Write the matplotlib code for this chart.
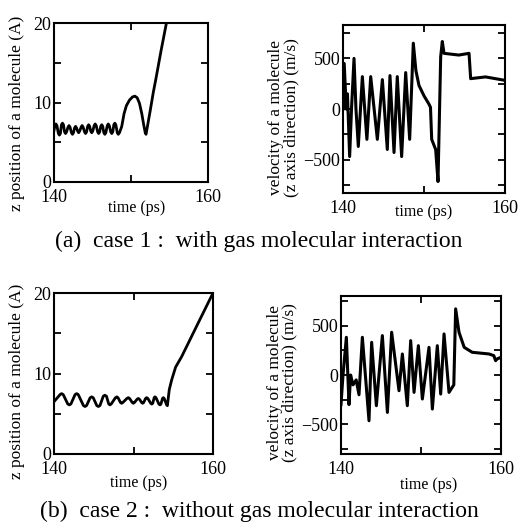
import matplotlib
matplotlib.use("Agg")
import matplotlib.pyplot as plt
from matplotlib.ticker import MultipleLocator

plt.rcParams['font.family'] = ['Liberation Serif', 'DejaVu Serif']

# case 1 : z position (A)
t_z1 = [140.0, 140.12, 140.25, 140.38, 140.57, 140.7, 140.83, 140.97, 141.1, 141.23,
        141.37, 141.5, 141.63, 141.82, 141.95, 142.08, 142.27, 142.4, 142.53, 142.67,
        142.8, 142.93, 143.07, 143.2, 143.33, 143.52, 143.65, 143.78, 143.97, 144.1,
        144.23, 144.37, 144.5, 144.63, 144.77, 144.9, 145.03, 145.22, 145.35, 145.48,
        145.67, 145.8, 145.93, 146.07, 146.2, 146.33, 146.47, 146.6, 146.73, 146.92,
        147.05, 147.18, 147.37, 147.5, 147.63, 147.77, 147.9, 148.03, 148.22, 148.35,
        148.5, 148.8, 149.1, 149.4, 149.8, 150.2, 150.5, 150.8, 151.1, 151.4,
        151.65, 151.85, 151.95, 152.1, 152.5, 152.9, 153.2, 153.9, 154.6, 155.0]
z1 = [6.5, 7.1, 7.3, 7.1, 6.1, 5.9, 6.1, 7.2, 7.4, 7.2,
      6.3, 6.1, 6.3, 6.9, 7.1, 6.9, 6.2, 6.0, 6.2, 6.8,
      7.0, 6.8, 6.4, 6.2, 6.4, 6.9, 7.1, 6.9, 6.3, 6.1,
      6.3, 7.0, 7.2, 7.0, 6.4, 6.2, 6.4, 7.1, 7.3, 7.1,
      6.3, 6.1, 6.3, 7.0, 7.2, 7.0, 6.2, 6.0, 6.2, 7.1,
      7.3, 7.1, 6.3, 6.1, 6.3, 7.2, 7.4, 7.2, 6.2, 6.0,
      6.2, 7.0, 8.6, 9.6, 10.3, 10.7, 10.8, 10.6, 9.9, 8.6,
      7.2, 6.2, 6.0, 6.8, 9.0, 11.3, 12.8, 16.5, 20.0, 22.0]

# case 1 : velocity (m/s)
t_v1 = [140.0, 140.15, 140.4, 140.55, 140.82, 141.05, 141.36, 141.6, 141.89, 142.39,
        142.95, 143.42, 144.24, 144.86, 145.47, 145.8, 146.3, 146.7, 147.24, 147.74,
        148.23, 148.68, 149.0, 149.38, 150.0, 150.6, 150.8, 150.95, 151.44, 151.73,
        152.06, 152.26, 152.47, 154.3, 155.56, 155.76, 157.6, 160.0]
v1 = [0, 450, 0, 150, -470, 0, 500, 0, -370, 320,
      -300, 320, -300, 290, -400, 330, -430, 320, -470, 360,
      -300, 650, 380, 233, 130, 50, 17, -300, -400, -717,
      517, 667, 550, 533, 550, 300, 317, 283]

# case 2 : z position (A)
t_z2 = [140.0,
        140.76, 140.96, 141.16, 141.73, 141.93, 142.13, 142.65, 142.85, 143.05,
        143.7, 143.9, 144.1, 144.54, 144.74, 144.94, 145.38, 145.58, 145.78,
        146.2, 146.4, 146.6, 146.88, 147.04, 147.2, 147.72, 147.9, 148.06,
        148.36, 148.5, 148.66, 149.17, 149.35, 149.5, 149.84, 149.98, 150.12,
        150.45, 150.6, 150.75, 151.02, 151.15, 151.28, 151.52, 151.65, 151.8,
        152.17, 152.3, 152.42, 152.6, 152.7, 152.82, 153.2, 153.33, 153.45,
        153.65, 153.75, 153.86, 154.17, 154.26,
        154.5, 154.8, 155.3, 156.06, 158.0, 160.0]
z2 = [6.5,
      7.38, 7.5, 7.38, 6.22, 6.1, 6.22, 7.38, 7.5, 7.38,
      6.02, 5.9, 6.02, 6.98, 7.1, 6.98, 6.02, 5.9, 6.02,
      7.18, 7.3, 7.18, 6.22, 6.1, 6.22, 6.98, 7.1, 6.98,
      6.4, 6.3, 6.4, 6.9, 7.0, 6.9, 6.4, 6.3, 6.4,
      6.8, 6.9, 6.8, 6.4, 6.3, 6.4, 6.9, 7.0, 6.9,
      6.3, 6.2, 6.3, 7.0, 7.1, 7.0, 6.2, 6.1, 6.2,
      6.9, 7.0, 6.9, 6.1, 6.0,
      8.0, 9.2, 10.8, 12.1, 16.0, 20.0]

# case 2 : velocity (m/s)
t_v2 = [140.0, 140.25, 140.67, 141.0, 141.2, 141.5, 141.9, 142.25, 142.67, 143.5,
        143.83, 144.42, 145.17, 145.8, 146.33, 147.25, 147.67, 148.29, 148.71, 149.13,
        149.67, 150.17, 151.0, 151.42, 152.04, 152.46, 152.88, 153.5, 154.1, 154.33,
        154.75, 155.4, 156.4, 158.5, 159.1, 159.33, 159.5, 160.0]
v2 = [-300, 0, 382, -300, 0, -100, -50, -200, 382, -463,
      331, -311, 399, -379, 433, -159, 213, -311, 348, -176,
      297, -243, 280, -345, 297, -193, 416, -176, -100, 670,
      433, 280, 230, 213, 196, 145, 162, 180]

W, H = 518, 528
fig = plt.figure(figsize=(W / 100, H / 100), dpi=100)


def px_axes(x0, y0, x1, y1):
    return fig.add_axes([x0 / W, 1 - y1 / H, (x1 - x0) / W, (y1 - y0) / H])


def style(ax, ylim, ymajor, yminor):
    ax.set_xlim(140, 160)
    ax.set_ylim(*ylim)
    ax.set_xticks([140, 160])
    ax.xaxis.set_minor_locator(MultipleLocator(10))
    ax.yaxis.set_major_locator(MultipleLocator(ymajor))
    ax.yaxis.set_minor_locator(MultipleLocator(yminor))
    ax.tick_params(which='both', direction='in', top=True, right=True,
                   length=5, width=1.3, labelsize=13)
    ax.tick_params(axis='x', pad=5)
    ax.tick_params(axis='y', pad=2)
    for s in ax.spines.values():
        s.set_linewidth(1.5)


ylab_z = 'z position of a molecule (A)'
ylab_v = 'velocity of a molecule\n(z axis direction) (m/s)'

# top left
ax1 = px_axes(54, 23, 208, 182)
ax1.plot(t_z1, z1, color='black', lw=2.0)
style(ax1, (0, 20), 10, 5)
ax1.set_xlabel('time (ps)', fontsize=11.5)
ax1.xaxis.set_label_coords(0.535, -0.115)
ax1.set_ylabel(ylab_z, fontsize=12.5)
ax1.yaxis.set_label_coords(-0.19, 0.43)

# top right
ax2 = px_axes(343, 25, 505, 193)
ax2.plot(t_v1, v1, color='black', lw=2.2)
style(ax2, (-830, 830), 500, 250)
ax2.set_yticks([-500, 0, 500])
ax2.set_xlabel('time (ps)', fontsize=11.5)
ax2.xaxis.set_label_coords(0.5, -0.065)
ax2.set_ylabel(ylab_v, fontsize=12.5, linespacing=0.9)
ax2.yaxis.set_label_coords(-0.27, 0.45)

# bottom left
ax3 = px_axes(54, 293, 213, 454)
ax3.plot(t_z2, z2, color='black', lw=2.0)
style(ax3, (0, 20), 10, 5)
ax3.set_xlabel('time (ps)', fontsize=11.5)
ax3.xaxis.set_label_coords(0.535, -0.13)
ax3.set_ylabel(ylab_z, fontsize=12.5)
ax3.yaxis.set_label_coords(-0.18, 0.45)

# bottom right
ax4 = px_axes(341, 296, 501, 454)
ax4.plot(t_v2, v2, color='black', lw=2.2)
style(ax4, (-800, 800), 500, 250)
ax4.set_yticks([-500, 0, 500])
ax4.set_xlabel('time (ps)', fontsize=11.5)
ax4.xaxis.set_label_coords(0.55, -0.145)
ax4.set_ylabel(ylab_v, fontsize=12.5, linespacing=0.9)
ax4.yaxis.set_label_coords(-0.27, 0.45)

fig.text(0.5, 1 - 241 / H, '(a)  case 1 :  with gas molecular interaction',
         ha='center', va='center', fontsize=17)
fig.text(0.5, 1 - 511 / H, '(b)  case 2 :  without gas molecular interaction',
         ha='center', va='center', fontsize=17)

fig.savefig('out.png', dpi=100)
